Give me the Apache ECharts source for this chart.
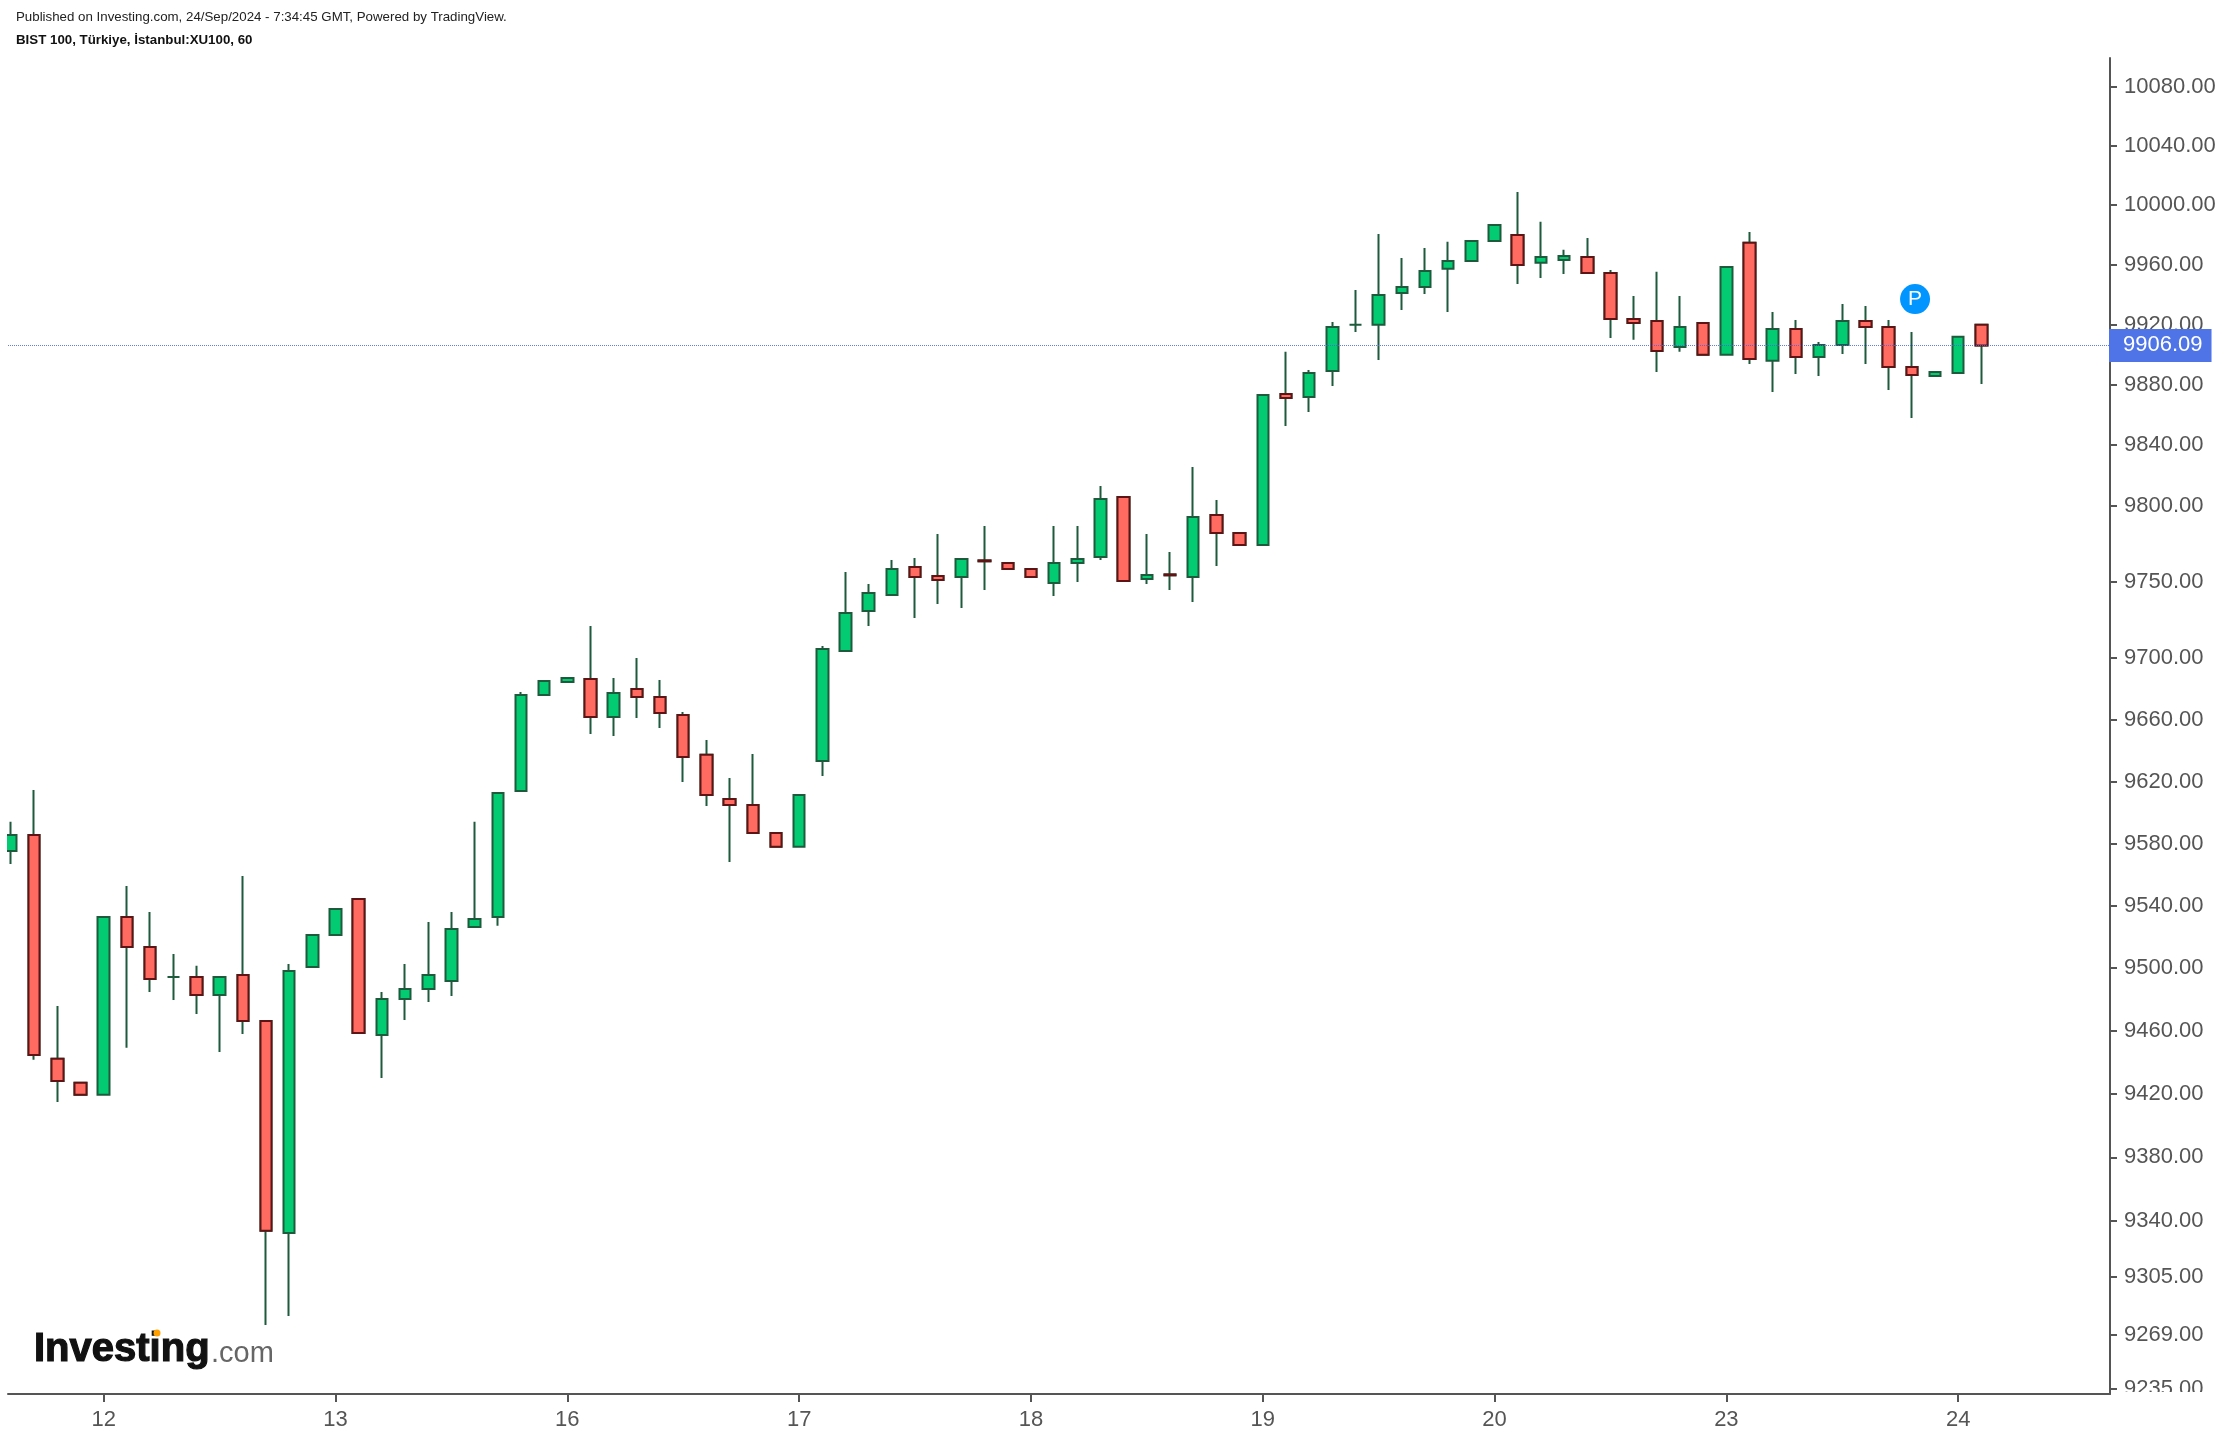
<!DOCTYPE html>
<html>
<head>
<meta charset="utf-8">
<style>html,body{margin:0;padding:0;background:#fff}#c{width:2230px;height:1436px}</style>
<script src="https://cdn.jsdelivr.net/npm/echarts@6/dist/echarts.min.js"></script>
</head>
<body>
<div id="c"></div>
<script>
const opens = [9575.2,9585.5,9442.3,9427.1,9419.5,9532.8,9513.6,9494.4,9494.4,9482.9,
9495.7,9466.4,9332.5,9500.8,9521.3,9544.3,9457.5,9480.3,9486.7,9491.9,
9526.4,9532.8,9613.8,9676.1,9684.5,9686.5,9661.8,9680.0,9674.8,9663.1,
9637.2,9608.6,9604.8,9586.8,9577.8,9633.3,9704.7,9730.8,9741.3,9759.7,
9753.8,9753.1,9764.0,9762.3,9758.4,9749.2,9762.3,9766.2,9805.7,9751.8,
9754.8,9753.1,9793.8,9782.0,9774.1,9873.8,9871.8,9889.1,9919.8,9919.8,
9941.1,9945.1,9957.2,9962.5,9975.9,9979.9,9961.2,9963.2,9965.2,9954.5,
9923.7,9922.4,9905.1,9921.1,9899.8,9974.6,9895.8,9917.1,9898.4,9906.4,
9922.4,9918.4,9891.8,9885.8,9887.8,9919.8];
const closes = [9585.5,9444.8,9428.3,9419.5,9532.8,9513.6,9493.1,9494.4,9482.9,9494.4,
9466.4,9333.8,9498.2,9521.3,9537.9,9458.8,9480.3,9486.7,9495.7,9525.1,
9531.5,9612.5,9676.1,9685.2,9687.1,9661.8,9677.4,9674.8,9664.4,9635.9,
9611.2,9604.8,9586.8,9577.8,9611.2,9706.0,9729.5,9742.6,9758.4,9753.1,
9751.1,9764.9,9763.4,9758.4,9753.1,9762.3,9764.9,9804.4,9750.5,9754.4,
9754.2,9792.5,9782.0,9774.1,9873.1,9871.1,9887.8,9918.4,9919.8,9939.7,
9945.1,9955.8,9962.5,9975.9,9986.6,9959.8,9965.2,9965.8,9954.5,9923.7,
9921.1,9902.4,9918.4,9899.8,9958.5,9897.1,9917.1,9898.4,9906.4,9922.4,
9918.4,9891.8,9886.4,9888.4,9911.8,9906.09];
const lows = [9566.8,9441.7,9415.0,9419.5,9419.5,9449.3,9484.8,9479.7,9470.8,9446.7,
9458.1,9274.9,9280.5,9500.8,9521.3,9458.8,9430.2,9467.0,9478.4,9482.3,
9526.4,9527.1,9613.8,9676.1,9684.5,9650.8,9649.5,9661.1,9654.7,9619.7,
9604.1,9568.1,9586.8,9577.8,9577.8,9623.6,9704.7,9721.0,9741.3,9726.3,
9735.4,9732.8,9744.6,9758.4,9753.1,9740.6,9749.8,9764.2,9750.5,9748.5,
9744.6,9736.7,9760.3,9774.1,9774.1,9852.6,9861.9,9879.1,9915.1,9896.4,
9929.7,9940.4,9928.4,9962.5,9975.9,9947.1,9951.1,9953.8,9954.5,9911.1,
9909.8,9888.4,9901.8,9899.8,9899.8,9893.8,9875.1,9887.1,9885.8,9900.4,
9893.8,9876.5,9857.9,9885.8,9887.8,9880.5];
const highs = [9593.9,9614.5,9475.9,9427.1,9532.8,9552.7,9536.0,9509.1,9501.5,9494.4,
9559.1,9466.4,9502.7,9521.3,9537.9,9544.3,9484.8,9502.7,9529.6,9536.0,
9593.9,9612.5,9678.0,9685.2,9687.1,9721.0,9687.1,9700.2,9685.8,9665.0,
9646.9,9622.3,9637.8,9586.8,9611.2,9708.0,9756.4,9748.5,9764.2,9765.6,
9781.4,9764.9,9786.6,9762.3,9758.4,9786.6,9786.6,9812.9,9805.7,9781.4,
9769.5,9825.5,9803.7,9782.0,9873.1,9901.8,9889.8,9921.7,9943.1,9980.6,
9964.5,9971.2,9975.3,9975.9,9986.6,10008.8,9988.7,9969.9,9977.9,9956.5,
9939.1,9955.2,9939.1,9921.1,9958.5,9981.9,9928.4,9923.1,9908.4,9933.7,
9932.4,9923.1,9915.1,9888.4,9911.8,9919.8];

const dayLabels = ['12','13','16','17','18','19','20','23','24'];
const dayTicks = [4,14,24,34,44,54,64,74,84];
const priceTicks = [10080,10040,10000,9960,9920,9880,9840,9800,9750,9700,9660,9620,9580,9540,9500,9460,9420,9380,9340,9305,9269,9235];
const lastPrice = 9906.09;
const pMarkerBar = 82.14;
const pMarkerPrice = 9937.0;

const GREEN = '#02cb72', RED = '#ff6b61', DGREEN = '#1e5a3c', DRED = '#5e1414', AXIS = '#555555';
const FONT = '"Liberation Sans", Arial, sans-serif';

const allBars = opens.map((o, i) => [i, o, closes[i], lows[i], highs[i]]);
const downBars = opens.map((o, i) => [i, o, closes[i], Math.min(o, closes[i]), Math.max(o, closes[i])])
  .filter(b => b[2] < b[1]);

const chart = echarts.init(document.getElementById('c'), null, {renderer: 'canvas'});
chart.setOption({
  animation: false,
  backgroundColor: '#ffffff',
  title: [
    {text: 'Published on Investing.com, 24/Sep/2024 - 7:34:45 GMT, Powered by TradingView.', left: 16, top: 11,
     padding: 0, textStyle: {fontFamily: FONT, fontSize: 13.3, fontWeight: 'normal', color: '#222'}},
    {text: 'BIST 100, Türkiye, İstanbul:XU100, 60', left: 16, top: 34,
     padding: 0, textStyle: {fontFamily: FONT, fontSize: 13.3, fontWeight: 'bold', color: '#111'}}
  ],
  grid: {left: 8, right: 120, top: 58, bottom: 42, containLabel: false},
  xAxis: {
    type: 'value', min: -0.13, max: 90.55, splitLine: {show: false},
    axisLine: {show: true, onZero: false, lineStyle: {color: AXIS, width: 2}},
    axisTick: {show: true, length: 8, customValues: dayTicks, lineStyle: {color: AXIS, width: 2}},
    axisLabel: {
      customValues: dayTicks, margin: 15, fontFamily: FONT, fontSize: 22, color: AXIS,
      formatter: v => dayLabels[dayTicks.indexOf(v)]
    }
  },
  yAxis: {
    type: 'log', logBase: 10, position: 'right', min: 9232.0, max: 10099.3, splitLine: {show: false},
    axisLine: {show: true, onZero: false, lineStyle: {color: AXIS, width: 2}},
    axisTick: {show: true, length: 7, customValues: priceTicks, lineStyle: {color: AXIS, width: 2}},
    axisLabel: {
      customValues: priceTicks, margin: 14, fontFamily: FONT, fontSize: 22, color: AXIS,
      padding: [5, 0, 0, 0],
      showMinLabel: true, showMaxLabel: true, hideOverlap: false,
      formatter: v => Number(v).toFixed(2)
    }
  },
  series: [
    {
      type: 'candlestick', name: 'wicks', data: allBars, barWidth: 12, clip: true,
      encode: {x: 0, y: [1, 2, 3, 4]},
      itemStyle: {color: GREEN, color0: GREEN, borderColor: DGREEN, borderColor0: DGREEN, borderColorDoji: DGREEN, borderWidth: 2},
      markPoint: {
        silent: true, symbol: 'circle', symbolSize: 30,
        itemStyle: {color: '#0095ff'},
        label: {show: true, formatter: 'P', color: '#fff', fontSize: 21, fontFamily: FONT},
        data: [{coord: [pMarkerBar, pMarkerPrice]}]
      }
    },
    {
      type: 'candlestick', name: 'down', data: downBars, barWidth: 12, clip: true,
      encode: {x: 0, y: [1, 2, 3, 4]},
      itemStyle: {color: RED, color0: RED, borderColor: DRED, borderColor0: DRED, borderColorDoji: DRED, borderWidth: 2},
      markLine: {
        silent: true, symbol: 'none', animation: false, clip: false,
        lineStyle: {color: 'rgba(70,100,235,0.85)', type: [1, 1], width: 1},
        label: {
          show: true, position: 'end', distance: -1, formatter: () => lastPrice.toFixed(2),
          backgroundColor: '#4f74e8', color: '#fff', fontFamily: FONT, fontSize: 22,
          lineHeight: 24, padding: [6, 9, 3, 14]
        },
        data: [{yAxis: lastPrice}]
      }
    }
  ],
  graphic: [
    {type: 'rect', z: 100, shape: {x: 2112, y: 1392, width: 118, height: 16}, style: {fill: '#fff'}, silent: true},
    {type: 'rect', z: 100, shape: {x: 0, y: 58, width: 7, height: 1330}, style: {fill: '#fff'}, silent: true},
    {type: 'text', z: 50, x: 34, y: 1350, silent: true,
     style: {text: 'Investing', fill: '#111', stroke: '#111', lineWidth: 1.2, font: 'bold 40px ' + FONT, textVerticalAlign: 'middle'}},
    {type: 'text', z: 50, x: 211, y: 1354, silent: true,
     style: {text: '.com', fill: '#666', font: '29px ' + FONT, textVerticalAlign: 'middle'}},
    {type: 'circle', z: 51, shape: {cx: 157, cy: 1333, r: 3.5}, style: {fill: '#ff9f00'}, silent: true}
  ]
});
</script>
</body>
</html>
